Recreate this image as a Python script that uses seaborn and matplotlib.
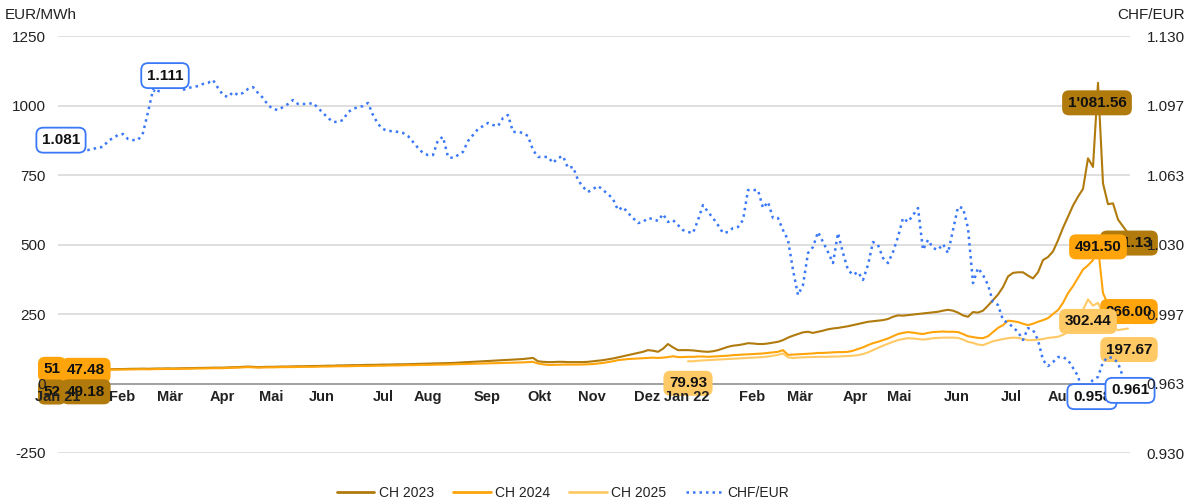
import numpy as np
import pandas as pd
import matplotlib
matplotlib.use("Agg")
import matplotlib.pyplot as plt
from matplotlib.lines import Line2D
import seaborn as sns

# ---------------- data ----------------
month_labels = ['Jan 21', 'Feb', 'Mär', 'Apr', 'Mai', 'Jun', 'Jul', 'Aug', 'Sep', 'Okt',
                'Nov', 'Dez', 'Jan 22', 'Feb', 'Mär', 'Apr', 'Mai', 'Jun', 'Jul', 'Aug']
month_pos = [0, 12.8, 22.4, 32.8, 42.6, 52.8, 65, 74, 85.8, 96.4,
             106.8, 117.8, 125.8, 138.8, 148.4, 159.4, 168.2, 179.8, 190.6, 200.8]

ch2023 = [
    52, 51.5, 50.5, 50, 49.5, 49.18, 49.5, 50, 50.5, 51,
    51, 51.5, 52, 52, 52.5, 53, 53, 53.5, 53, 53.5,
    54, 54, 54.5, 54, 54.5, 55, 55, 55.5, 56, 56,
    56.5, 57, 57, 57, 58, 58.5, 59, 60, 61, 60,
    59, 59.5, 60, 60, 60.5, 61, 61, 61.5, 62, 62,
    62.5, 63, 63, 63.5, 64, 64, 65, 65, 65.5, 66,
    66, 66.5, 67, 67, 67.5, 68, 68, 68.5, 69, 69,
    69.5, 70, 70.5, 71, 71.5, 72, 72.5, 73, 73.5, 74,
    75, 76, 77, 78, 79, 80, 81, 82, 83, 84,
    85, 86, 87, 88, 90, 92, 80, 78, 77, 77,
    78, 78, 77, 77, 77, 77, 78, 80, 82, 84,
    87, 90, 94, 98, 102, 106, 110, 114, 120, 118,
    114, 125, 142, 130, 120, 120, 120, 119, 117, 115,
    114, 116, 120, 126, 132, 136, 138, 141, 145, 144,
    142, 142, 144, 147, 150, 156, 165, 172, 178, 184,
    186, 182, 186, 190, 195, 198, 200, 203, 206, 210,
    214, 218, 222, 224, 226, 228, 232, 240, 245, 244,
    246, 248, 250, 252, 254, 256, 258, 262, 265, 262,
    255, 245, 240, 257, 255, 262, 280, 300, 320, 347,
    385, 398, 400, 400, 388, 378, 400, 444, 455, 475,
    515, 560, 600, 640, 672, 700, 810, 779, 1081.56, 720,
    645, 648, 590, 565, 541.13]

ch2024 = [
    51, 50, 49, 48, 47.8, 47.48, 47.8, 48, 48.5, 49,
    49, 49.5, 50, 50, 50.5, 51, 51, 51.5, 51, 51.5,
    52, 52, 52.5, 52, 52.5, 53, 53, 53.5, 54, 54,
    54.5, 55, 55, 55, 56, 56.5, 57, 58, 59, 58,
    57, 57.5, 58, 58, 58.5, 59, 59, 59, 59.5, 60,
    60, 60, 60.5, 61, 61, 61.5, 62, 62, 62, 62.5,
    63, 63, 63, 63.5, 64, 64, 64.5, 65, 65, 65.5,
    66, 66, 66.5, 67, 67, 67.5, 68, 68, 68.5, 69,
    69.5, 70, 70.5, 71, 71.5, 72, 72.5, 73, 73.5, 74,
    74.5, 75, 75.5, 76, 77, 78, 72, 69, 67, 67,
    67.5, 68, 68, 68, 68, 68.5, 69, 70, 72, 74,
    77, 80, 84, 86, 88, 89, 90, 91, 92, 93,
    92, 93, 95, 98, 95, 95, 96, 96, 97, 97,
    96, 97, 98, 99, 100, 102, 103, 104, 105, 106,
    107, 108, 110, 112, 114, 120, 103, 104, 105, 106,
    107, 108, 110, 110, 111, 112, 113, 113, 114, 118,
    124, 130, 138, 145, 150, 156, 162, 170, 178, 182,
    185, 183, 180, 178, 182, 185, 186, 187, 186, 186,
    185, 178, 170, 167, 164, 163, 170, 185, 200, 210,
    226, 224, 221, 215, 210, 215, 222, 228, 235, 250,
    264, 290, 325, 350, 380, 410, 425, 444, 491.5, 325,
    285, 280, 275, 270, 266]

ch2025_start = 126
ch2025 = [
    79.93, 80, 82, 83, 84, 85, 86, 87, 88, 89,
    90, 91, 92, 93, 94, 95, 97, 100, 103, 108,
    94, 92, 93, 94, 95, 95, 96, 96, 96, 97,
    97, 98, 99, 100, 102, 106, 112, 120, 128, 136,
    143, 150, 156, 160, 163, 162, 160, 158, 160, 163,
    164, 165, 165, 165, 164, 158, 150, 146, 140, 138,
    145, 152, 156, 160, 163, 165, 164, 160, 156, 156,
    158, 160, 164, 166, 168, 175, 185, 200, 240, 265,
    302.44, 280, 290, 250, 210, 200, 192, 195, 197.67]

chf_eur = [
    1.081, 1.079, 1.078, 1.077, 1.076, 1.075, 1.0753, 1.0758, 1.0765, 1.0768,
    1.0796, 1.0811, 1.0825, 1.0830, 1.0806, 1.0801, 1.0801, 1.0835, 1.0935, 1.1041,
    1.1027, 1.111, 1.1065, 1.1051, 1.1060, 1.1041, 1.1051, 1.1055, 1.1060, 1.1070,
    1.1075, 1.1089, 1.1051, 1.1017, 1.1007, 1.1031, 1.1017, 1.1027, 1.1046, 1.1055,
    1.1027, 1.1003, 1.0969, 1.0950, 1.0945, 1.0959, 1.0974, 1.0993, 1.0974, 1.0974,
    1.0974, 1.0979, 1.0955, 1.0931, 1.0907, 1.0888, 1.0888, 1.0897, 1.0935, 1.0950,
    1.0959, 1.0964, 1.0979, 1.0921, 1.0878, 1.0854, 1.0844, 1.0844, 1.0840, 1.0835,
    1.0820, 1.0792, 1.0763, 1.0739, 1.0729, 1.0729, 1.0801, 1.0816, 1.0720, 1.0715,
    1.0729, 1.0744, 1.0796, 1.0825, 1.0854, 1.0868, 1.0883, 1.0873, 1.0868, 1.0907,
    1.0921, 1.0840, 1.0840, 1.0835, 1.0820, 1.0753, 1.0720, 1.0720, 1.0720, 1.0691,
    1.0715, 1.0724, 1.0667, 1.0672, 1.0609, 1.0576, 1.0552, 1.0566, 1.0581, 1.0561,
    1.0542, 1.0518, 1.0465, 1.0480, 1.0451, 1.0427, 1.0403, 1.0408, 1.0427, 1.0422,
    1.0413, 1.0446, 1.0408, 1.0417, 1.0393, 1.0369, 1.0360, 1.0355, 1.0417, 1.0489,
    1.0456, 1.0427, 1.0393, 1.0355, 1.0360, 1.0379, 1.0384, 1.0417, 1.0561, 1.0561,
    1.0561, 1.0475, 1.0504, 1.0427, 1.0427, 1.0369, 1.0322, 1.0178, 1.0058, 1.0106,
    1.0259, 1.0288, 1.0360, 1.0312, 1.0264, 1.0211, 1.0355, 1.0259, 1.0178, 1.0154,
    1.0168, 1.0130, 1.0202, 1.0312, 1.0298, 1.0235, 1.0211, 1.0264, 1.0336, 1.0427,
    1.0408, 1.0441, 1.0475, 1.0274, 1.0322, 1.0283, 1.0274, 1.0302, 1.0259, 1.0369,
    1.0480, 1.0475, 1.0379, 1.0115, 1.0187, 1.0154, 1.0106, 1.0024, 1.0010, 0.9938,
    0.9923, 0.9904, 0.9880, 0.9842, 0.9899, 0.9890, 0.9842, 0.9746, 0.9717, 0.9736,
    0.9760, 0.9760, 0.9746, 0.9708, 0.9669, 0.958, 0.9626, 0.9650, 0.9665, 0.9736,
    0.9760, 0.9756, 0.9732, 0.9665, 0.961]

series_names = ['CH 2023', 'CH 2024', 'CH 2025', 'CHF/EUR']
left_ticks = [-250, 0, 250, 500, 750, 1000, 1250]

# ---------------- styles ----------------
colors = {'CH 2023': '#b07a0c', 'CH 2024': '#ffa40a', 'CH 2025': '#ffc965', 'CHF/EUR': '#3a78f8'}
W, H = 1202, 504
TXT = '#222222'

sns.set_theme(style='white')
plt.rcParams['font.family'] = ['Liberation Sans', 'DejaVu Sans']
plt.rcParams['axes.unicode_minus'] = False

frames = [
    pd.DataFrame({'x': np.arange(len(ch2023)), 'value': ch2023, 'series': 'CH 2023'}),
    pd.DataFrame({'x': np.arange(len(ch2024)), 'value': ch2024, 'series': 'CH 2024'}),
    pd.DataFrame({'x': np.arange(len(ch2025)) + ch2025_start, 'value': ch2025, 'series': 'CH 2025'}),
]
df_ch = pd.concat(frames, ignore_index=True)
df_fx = pd.DataFrame({'x': np.arange(len(chf_eur)), 'value': chf_eur})

fig = plt.figure(figsize=(W / 100, H / 100), dpi=100)
ax = fig.add_axes([58 / W, 1 - 453 / H, (1130 - 58) / W, (453 - 36) / H])
ax2 = ax.twinx()

sns.lineplot(data=df_ch, x='x', y='value', hue='series',
             palette=[colors['CH 2023'], colors['CH 2024'], colors['CH 2025']],
             hue_order=['CH 2023', 'CH 2024', 'CH 2025'],
             linewidth=1.5, legend=False, ax=ax, estimator=None)
sns.lineplot(data=df_fx, x='x', y='value', color=colors['CHF/EUR'],
             linewidth=1.8, linestyle=(0, (1, 1.6)), legend=False, ax=ax2, estimator=None)

n = len(chf_eur)
ax.set_xlim(0, n - 1 + 0.4)
ax.set_ylim(-250, 1250)
ax2.set_ylim(0.930, 1.130)
ax.set_yticks(left_ticks)
ax2.set_yticks(np.linspace(0.930, 1.130, 7))
ax2.set_yticklabels([f"{v:.3f}" for v in np.linspace(0.930, 1.130, 7)])
ax.set_xticks(month_pos)
ax.set_xticklabels(month_labels)
ax.set_xlabel('')
ax.set_ylabel('')
ax2.set_ylabel('')

# horizontal grid lines drawn below the data
for t in left_ticks:
    if t != 0:
        ax.axhline(t, color='#d9d9d9', linewidth=1.2, zorder=0.4)
ax.grid(False)
ax2.grid(False)
for s in ['top', 'left', 'right']:
    ax.spines[s].set_visible(False)
for s in ax2.spines.values():
    s.set_visible(False)
ax.spines['bottom'].set_position(('data', 0))
ax.spines['bottom'].set_color('#9a9a9a')
ax.spines['bottom'].set_linewidth(1.3)
ax.spines['bottom'].set_zorder(0.5)

ax.tick_params(axis='y', length=0, pad=9, labelsize=11, labelcolor=TXT)
ax2.tick_params(axis='y', length=0, pad=12, labelsize=11, labelcolor=TXT)
ax.tick_params(axis='x', length=0, pad=5, labelsize=10.5, labelcolor=TXT)
for lbl in ax.get_xticklabels():
    lbl.set_fontweight('bold')
# tick labels on top of the value tags (as in the original)
ax.xaxis.set_zorder(8)
ax.yaxis.set_zorder(8)
ax2.yaxis.set_zorder(8)

fig.text(5 / W, 1 - 15 / H, 'EUR/MWh', ha='left', va='center', fontsize=11, color=TXT)
fig.text(1185 / W, 1 - 15 / H, 'CHF/EUR', ha='right', va='center', fontsize=11, color=TXT)


# ---------------- data labels ----------------
def fmt(v, dec=2):
    return f"{v:,.{dec}f}".replace(',', "'")


def tag(axis, x, y, text, fc, ec, dx=0, dy=0, tc='#111111', lw=0.0):
    axis.annotate(text, xy=(x, y), xytext=(dx, dy), textcoords='offset pixels',
                  ha='center', va='center', fontsize=11, fontweight='bold', color=tc,
                  bbox=dict(boxstyle='round,pad=0.36,rounding_size=0.45', fc=fc, ec=ec, lw=lw),
                  annotation_clip=False, zorder=6)


i23max = int(np.argmax(ch2023))
i24max = int(np.argmax(ch2024))
i25max = int(np.argmax(ch2025))
i23min = int(np.argmin(ch2023))
i24min = int(np.argmin(ch2024))
ifxmax = int(np.argmax(chf_eur))
ifxmin = int(np.argmin(chf_eur))

c23, c24, c25, cfx = colors['CH 2023'], colors['CH 2024'], colors['CH 2025'], colors['CHF/EUR']

tag(ax, 0, ch2024[0], fmt(ch2024[0], 0), c24, c24, dx=-6)
tag(ax, i24min, ch2024[i24min], fmt(ch2024[i24min]), c24, c24, dx=3)
tag(ax, 0, ch2023[0], fmt(ch2023[0], 0), c23, c23, dx=-6, dy=-23)
tag(ax, i23min, ch2023[i23min], fmt(ch2023[i23min]), c23, c23, dx=3, dy=-22)
tag(ax, ch2025_start, ch2025[0], fmt(ch2025[0]), c25, c25, dy=-22)
tag(ax, i23max, ch2023[i23max], fmt(ch2023[i23max]), c23, c23, dx=-1, dy=-20)
tag(ax, n - 1, ch2023[-1], fmt(ch2023[-1]), c23, c23, dx=1, dy=-10)
tag(ax, i24max, ch2024[i24max], fmt(ch2024[i24max]), c24, c24)
tag(ax, n - 1, ch2024[-1], fmt(ch2024[-1]), c24, c24, dx=1, dy=-2)
tag(ax, ch2025_start + i25max, ch2025[i25max], fmt(ch2025[i25max]), c25, c25, dy=-22)
tag(ax, n - 1, ch2025[-1], fmt(ch2025[-1]), c25, c25, dx=1, dy=-21)

tag(ax2, 0, chf_eur[0], fmt(chf_eur[0], 3), 'white', cfx, dx=3, dy=-2, lw=1.3)
tag(ax2, ifxmax, chf_eur[ifxmax], fmt(chf_eur[ifxmax], 3), 'white', cfx, dx=2, lw=1.3)
tag(ax2, ifxmin, chf_eur[ifxmin], fmt(chf_eur[ifxmin], 3), 'white', cfx, dx=9, dy=-2, lw=1.3)
tag(ax2, n - 1, chf_eur[-1], fmt(chf_eur[-1], 3), 'white', cfx, dx=2, dy=-2, lw=1.3)

# ---------------- legend ----------------
handles = [Line2D([], [], color=colors[s], lw=2.0) for s in series_names[:3]]
handles.append(Line2D([], [], color=colors['CHF/EUR'], lw=1.8, linestyle=(0, (1, 1.6))))
fig.legend(handles, series_names, loc='center', bbox_to_anchor=(563 / W, 1 - 493 / H),
           ncol=4, frameon=False, fontsize=10, handlelength=2.7, handletextpad=0.3,
           columnspacing=1.4, labelcolor=TXT)

fig.savefig('out.png', dpi=100)
